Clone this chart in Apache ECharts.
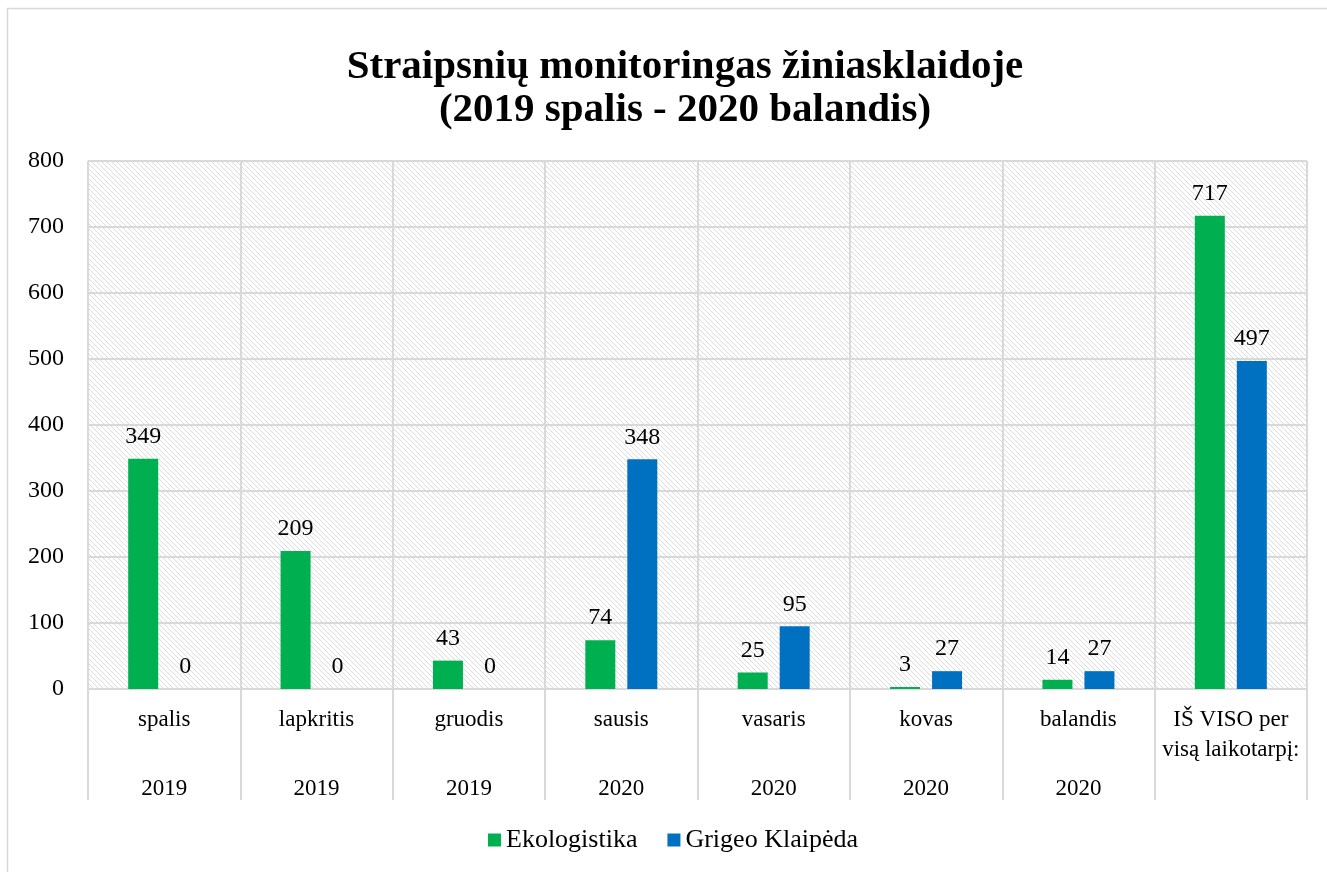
<!DOCTYPE html>
<html lang="lt">
<head>
    <meta charset="utf-8">
    <title>Straipsnių monitoringas žiniasklaidoje</title>
    <style>
        html, body { margin: 0; padding: 0; background: #fff; }
        #chart { width: 1327px; height: 872px; }
    </style>
</head>
<body>
<div id="chart"></div>
<script src="https://cdn.jsdelivr.net/npm/echarts@6/dist/echarts.min.js"></script>
<script>
var months = ['spalis', 'lapkritis', 'gruodis', 'sausis', 'vasaris', 'kovas', 'balandis', 'IŠ VISO per\nvisą laikotarpį:'];
var years = ['2019', '2019', '2019', '2020', '2020', '2020', '2020', ''];
var ekologistika = [349, 209, 43, 74, 25, 3, 14, 717];
var grigeo = [0, 0, 0, 348, 95, 27, 27, 497];

var FONT = '"Liberation Serif", "Times New Roman", serif';

// hatched plot background (light diagonal dotted lines)
function makeHatch() {
    var c = document.createElement('canvas');
    c.width = 10; c.height = 10;
    var ctx = c.getContext('2d');
    ctx.fillStyle = '#ffffff';
    ctx.fillRect(0, 0, 10, 10);
    ctx.fillStyle = '#dcdcdc';
    for (var y = 0; y < 10; y++) {
        for (var x = 0; x < 10; x++) {
            if ((x - y + 10) % 5 === 0) ctx.fillRect(x, y, 1, 1);
        }
    }
    return c;
}

var labelCats = months.map(function (m, i) { return m + '|' + years[i]; });

var myChart = echarts.init(document.getElementById('chart'));
myChart.setOption({
    animation: false,
    textStyle: { fontFamily: FONT },
    graphic: [{
        type: 'rect',
        shape: { x: 7.5, y: 8.5, width: 1340, height: 900 },
        style: { fill: null, stroke: '#d9d9d9', lineWidth: 1.5 },
        silent: true
    }],
    title: {
        text: 'Straipsnių monitoringas žiniasklaidoje\n(2019 spalis - 2020 balandis)',
        left: 680,
        textAlign: 'center',
        top: 41,
        textStyle: {
            fontFamily: FONT,
            fontSize: 41,
            fontWeight: 'bold',
            color: '#000',
            lineHeight: 43
        }
    },
    legend: {
        bottom: 14,
        left: 483,
        itemWidth: 13,
        itemHeight: 13,
        itemGap: 30,
        icon: 'rect',
        textStyle: { fontFamily: FONT, fontSize: 26, color: '#000', padding: [0, 0, 0, 0] },
        data: ['Ekologistika', 'Grigeo Klaipėda']
    },
    grid: {
        left: 88,
        right: 20,
        top: 161,
        bottom: 183,
        show: true,
        borderWidth: 0,
        backgroundColor: { image: makeHatch(), repeat: 'repeat' }
    },
    xAxis: {
        type: 'category',
        data: labelCats,
        axisLine: { show: true, lineStyle: { color: '#d9d9d9', width: 2 } },
        axisTick: { show: true, length: 111, lineStyle: { color: '#d9d9d9', width: 2 } },
        splitLine: { show: true, lineStyle: { color: '#d9d9d9', width: 2 } },
        axisLabel: {
            interval: 0,
            margin: 16,
            fontFamily: FONT,
            fontSize: 23,
            color: '#000',
            lineHeight: 30,
            formatter: function (v) {
                var p = v.split('|');
                if (!p[1]) return p[0];
                return p[0] + '\n{y|' + p[1] + '}';
            },
            rich: {
                y: { fontFamily: FONT, fontSize: 23, color: '#000', lineHeight: 30, padding: [77, 0, 0, 0] }
            }
        }
    },
    yAxis: {
        type: 'value',
        min: 0,
        max: 800,
        interval: 100,
        axisLine: { show: false },
        axisTick: { show: false },
        splitLine: { lineStyle: { color: '#d9d9d9', width: 2 } },
        axisLabel: { fontFamily: FONT, fontSize: 24, color: '#000', margin: 24 }
    },
    series: [{
        name: 'Ekologistika',
        type: 'bar',
        data: ekologistika,
        barWidth: 30,
        barGap: '40%',
        itemStyle: { color: '#00b050' },
        label: { show: true, position: 'top', distance: 10, fontFamily: FONT, fontSize: 24, color: '#000' }
    }, {
        name: 'Grigeo Klaipėda',
        type: 'bar',
        data: grigeo,
        barWidth: 30,
        itemStyle: { color: '#0070c0' },
        label: { show: true, position: 'top', distance: 10, fontFamily: FONT, fontSize: 24, color: '#000' }
    }]
});
window.onresize = myChart.resize;
</script>
</body>
</html>
